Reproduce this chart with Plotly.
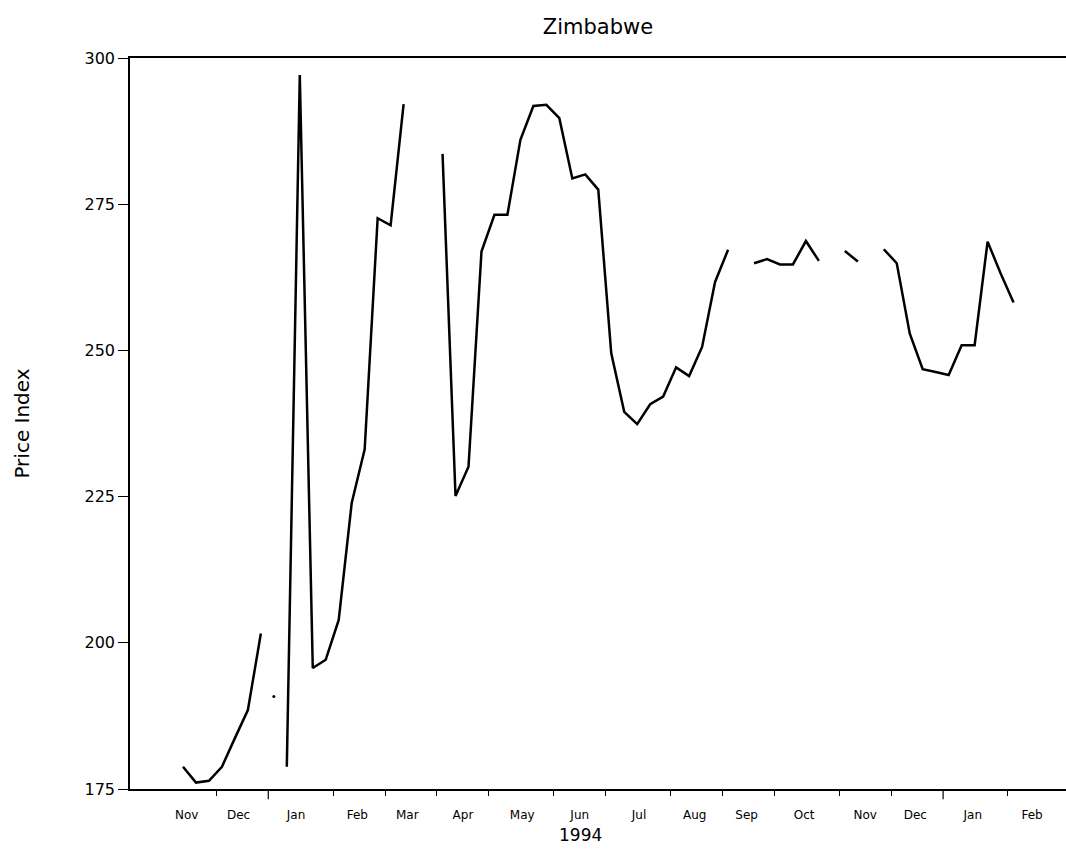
import plotly.graph_objects as go
import pandas as pd

# ---- data (weekly price index, Zimbabwe) ----
dates = pd.date_range("1993-11-16", periods=65, freq="7D")
price_index = [
    178.8, 176.1, 176.4, 178.8, 183.7, 188.5, 201.6, None,
    178.8, 297.1, 195.7, 197.1, 203.9, 223.9, 233.1, 272.6,
    271.4, 292.1, None, None, 283.6, 225.1, 230.1, 266.9,
    273.2, 273.2, 286.0, 291.8, 292.0, 289.7, 279.4, 280.1,
    277.5, 249.5, 239.5, 237.4, 240.8, 242.1, 247.1, 245.6,
    250.6, 261.7, 267.2, None, 264.9, 265.6, 264.7, 264.7,
    268.7, 265.3, None, 267.0, 265.2, None, 267.3, 264.9,
    252.9, 246.8, 246.3, 245.8, 250.9, 250.9, 268.6, 263.2,
    258.2,
]
isolated_dates = ["1994-01-04"]
isolated_values = [190.8]

# month labels (centred in each month) and month boundary ticks
label_dates = ["1993-11-18", "1993-12-16", "1994-01-16", "1994-02-18", "1994-03-17",
               "1994-04-16", "1994-05-18", "1994-06-18", "1994-07-20", "1994-08-19",
               "1994-09-16", "1994-10-17", "1994-11-19", "1994-12-16", "1995-01-16",
               "1995-02-17"]
month_labels = ["Nov", "Dec", "Jan", "Feb", "Mar", "Apr", "May", "Jun", "Jul", "Aug",
                "Sep", "Oct", "Nov", "Dec", "Jan", "Feb"]
boundary_dates = ["1993-12-04", "1994-02-05", "1994-03-05", "1994-04-02", "1994-04-30",
                  "1994-06-04", "1994-07-02", "1994-08-06", "1994-09-03", "1994-10-01",
                  "1994-11-05", "1994-12-03", "1995-02-04"]
year_boundaries = ["1994-01-01", "1994-12-31"]
y_ticks = [175, 200, 225, 250, 275, 300]

FONT = "DejaVu Sans"

fig = go.Figure()
fig.add_trace(go.Scatter(
    x=dates, y=price_index, mode="lines",
    line=dict(color="black", width=2.5), connectgaps=False, showlegend=False,
))
fig.add_trace(go.Scatter(
    x=isolated_dates, y=isolated_values, mode="markers",
    marker=dict(color="black", size=3), showlegend=False,
))

for d in year_boundaries:
    fig.add_shape(type="line", xref="x", yref="paper", x0=d, x1=d, y0=0, y1=-0.014,
                  line=dict(color="black", width=1.2))

fig.add_annotation(text="1994", xref="paper", yref="paper", x=0.4808, y=-0.063,
                   xanchor="center", yanchor="middle", showarrow=False,
                   font=dict(family=FONT, size=17, color="black"))

fig.update_layout(
    width=1066, height=849,
    margin=dict(l=130, r=0, t=58, b=60),
    paper_bgcolor="white", plot_bgcolor="white",
    title=dict(text="Zimbabwe", x=0.5, xref="paper", y=1 - 27 / 849, yanchor="middle",
               font=dict(family=FONT, size=21, color="black")),
    font=dict(family=FONT, color="black"),
    xaxis=dict(
        type="date", range=["1993-10-18 10:00", "1995-03-07 07:00"],
        showline=True, linecolor="black", linewidth=1.5, mirror=True,
        showgrid=False, zeroline=False,
        tickmode="array", tickvals=label_dates, ticktext=month_labels,
        ticks="", ticklabelstandoff=14,
        tickfont=dict(family=FONT, size=12, color="black"),
        minor=dict(tickmode="array", tickvals=boundary_dates, ticks="outside",
                   ticklen=5, tickwidth=1, tickcolor="black", showgrid=False),
    ),
    yaxis=dict(
        range=[175, 300], tickmode="array", tickvals=y_ticks,
        showline=True, linecolor="black", linewidth=1.5,
        showgrid=False, zeroline=False,
        ticks="outside", ticklen=10, tickwidth=1, tickcolor="black",
        tickfont=dict(family=FONT, size=16, color="black"),
        title=dict(text="Price Index", standoff=50,
                   font=dict(family=FONT, size=20, color="black")),
    ),
)

fig.write_html("out.html")
